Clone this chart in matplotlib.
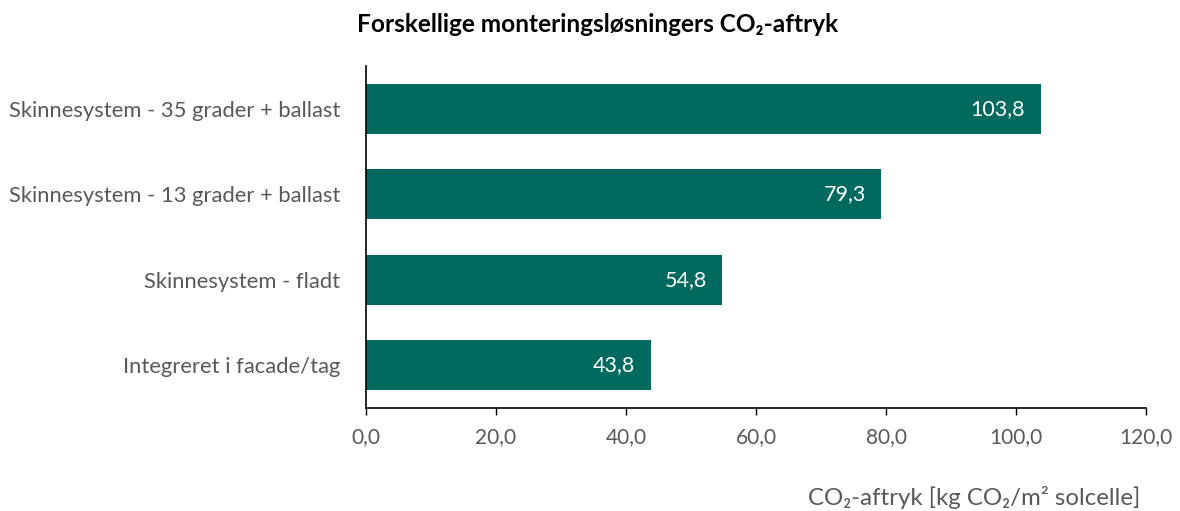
import matplotlib

matplotlib.use("Agg")
import matplotlib.pyplot as plt
from matplotlib.ticker import FuncFormatter

CATEGORIES = [
    "Skinnesystem - 35 grader + ballast",
    "Skinnesystem - 13 grader + ballast",
    "Skinnesystem - fladt",
    "Integreret i facade/tag",
]
VALUES = [103.8, 79.3, 54.8, 43.8]
X_TICKS = [0, 20, 40, 60, 80, 100, 120]

BAR_COLOR = "#006A5E"
GREY = "#595959"

plt.rcParams["font.family"] = ["Lato", "DejaVu Sans"]

fig = plt.figure(figsize=(11.8, 5.11), dpi=100)
ax = fig.add_axes([0.3102, 0.2016, 0.661, 0.6692])

y = list(range(len(CATEGORIES)))
bars = ax.barh(y, VALUES, height=0.58, color=BAR_COLOR)
ax.set_ylim(len(CATEGORIES) - 0.5, -0.5)
ax.set_xlim(0, 120)

# value labels inside the bar ends
for b, v in zip(bars, VALUES):
    ax.text(v - 2.4, b.get_y() + b.get_height() / 2, f"{v:.1f}".replace(".", ","),
            ha="right", va="center", color="white", fontsize=15.5)

ax.set_yticks(y)
ax.set_yticklabels(CATEGORIES, fontsize=15.8, color=GREY)
ax.tick_params(axis="y", length=0, pad=18.5)
ax.set_xticks(X_TICKS)
ax.xaxis.set_major_formatter(FuncFormatter(lambda v, _: f"{v:.1f}".replace(".", ",")))
ax.tick_params(axis="x", labelsize=15, labelcolor=GREY, length=5, width=1, pad=9)

for s in ("top", "right"):
    ax.spines[s].set_visible(False)
ax.spines["left"].set_linewidth(1.2)
ax.spines["bottom"].set_linewidth(1.2)

fig.text(0.506, 0.952, "Forskellige monteringsløsningers CO₂-aftryk",
         ha="center", va="center", fontsize=17.6, fontweight="bold", color="black")
fig.text(0.966, 0.027, "CO₂-aftryk [kg CO₂/m² solcelle]",
         ha="right", va="center", fontsize=17.3, color=GREY)

fig.savefig("out.png", dpi=100)
